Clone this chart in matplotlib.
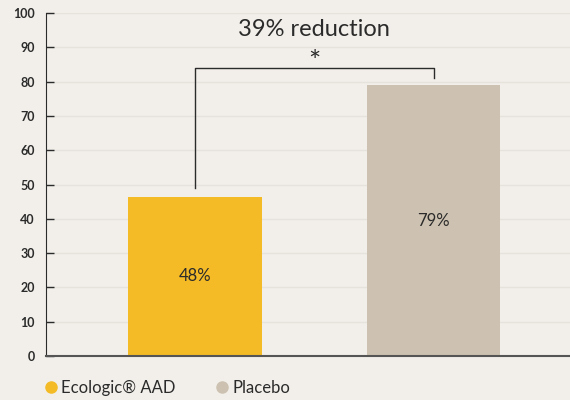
import matplotlib.pyplot as plt
from matplotlib.lines import Line2D

groups = ["Ecologic\u00ae AAD", "Placebo"]
values = [46.5, 79]
bar_labels = ["48%", "79%"]
colors = ["#f4bb26", "#cdc2b1"]
yticks = [0, 10, 20, 30, 40, 50, 60, 70, 80, 90, 100]

bg = "#f2efea"
ink = "#2b2b2b"
plt.rcParams["font.family"] = ["Lato", "DejaVu Sans"]

fig = plt.figure(figsize=(5.7, 4.0), dpi=100, facecolor=bg)
ax = fig.add_axes([0.0807, 0.11, 0.9193, 0.8575], facecolor=bg)

x = [0, 1]
ax.bar(x, values, width=0.56, color=colors, zorder=2)
for xi, v, lab in zip(x, values, bar_labels):
    ax.text(xi, v / 2, lab, ha="center", va="center", fontsize=12, color=ink, zorder=3)

# significance bracket
ax.plot([0, 0, 1, 1], [49, 84, 84, 81], color=ink, lw=1.0, zorder=3)
ax.text(0.5, 85.5, "*", ha="center", va="center", fontsize=21, color=ink)
ax.text(0.5, 95.3, "39% reduction", ha="center", va="center", fontsize=17, color=ink)

ax.set_xlim(-0.625, 1.572)
ax.set_ylim(0, 100)
ax.set_yticks(yticks)
ax.set_xticks([])
ax.yaxis.grid(True, color="#e6e2dc", lw=1.0, zorder=0)
for s in ["top", "right"]:
    ax.spines[s].set_visible(False)
ax.spines["left"].set_color(ink)
ax.spines["bottom"].set_color("#555555")
ax.spines["bottom"].set_linewidth(1.5)
ax.tick_params(axis="y", direction="in", length=6, width=1, color=ink,
               labelsize=9, labelcolor=ink, pad=8)
for t in ax.get_yticklabels():
    t.set_fontweight("bold")

handles = [Line2D([], [], marker="o", ls="", markersize=8, markerfacecolor=c,
                  markeredgecolor=c) for c in colors]
fig.legend(handles, groups, loc="lower left", bbox_to_anchor=(0.052, -0.027), ncol=2,
           frameon=False, fontsize=12, handletextpad=0.2, columnspacing=2.4,
           handlelength=0.8, labelcolor=ink)

fig.savefig("out.png", dpi=100, facecolor=bg)
